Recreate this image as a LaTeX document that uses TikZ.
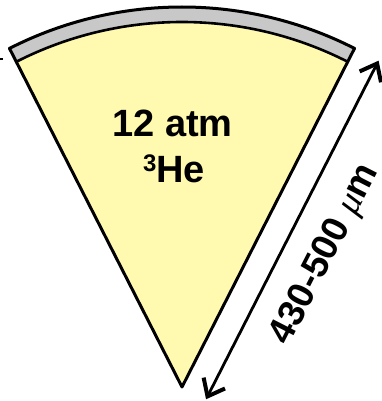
\documentclass[tikz,border=0pt]{standalone}
\usepackage{fontspec}
\setmainfont{Liberation Sans}
\newfontfamily\symfont{Liberation Serif}
\usetikzlibrary{arrows.meta,calc}
\definecolor{gasyellow}{RGB}{255,250,175}
\definecolor{wallgray}{RGB}{200,200,200}
\tikzset{
  outline/.style={line width=3pt, line join=round},
  dimarrow/.style={line width=2.8pt, {Straight Barb[length=15pt,width=24pt,line width=4pt]}-{Straight Barb[length=15pt,width=24pt,line width=4pt]}},
  bigtext/.style={font=\fontsize{38}{40}\selectfont\bfseries, inner sep=0pt},
}
\begin{document}
\begin{tikzpicture}[x=1pt,y=1pt]
\useasboundingbox (0,0) rectangle (382,401);
\coordinate (A) at (182,14);
\begin{scope}[shift={(A)}]
  \fill[gasyellow] (0,0) -- (63:365pt) arc[start angle=63,end angle=117,radius=365pt] -- cycle;
  \fill[wallgray] (63:365pt) arc[start angle=63,end angle=117,radius=365pt] -- (117:380pt) arc[start angle=117,end angle=63,radius=380pt] -- cycle;
  \draw[line width=2.6pt] (63:365pt) arc[start angle=63,end angle=117,radius=365pt];
  \draw[outline] (0,0) -- (63:380pt) arc[start angle=63,end angle=117,radius=380pt] -- cycle;
\end{scope}
\coordinate (lo) at ($(A)+(-27:27pt)$);
\coordinate (hi) at ($(lo)+(63:380pt)$);
\draw[dimarrow] (lo) -- (hi);
\node[bigtext, anchor=base] (p) at (172.5,264) {12 atm};
\node[bigtext, anchor=base] (he) at (174,218) {\raisebox{11pt}{\fontsize{24}{24}\selectfont 3}He};
\node[font=\fontsize{37}{40}\selectfont\bfseries, rotate=63, inner sep=0pt] (len) at ($(A)+(-27:68pt)+(63:183pt)$) {430-500 {\symfont\mdseries\itshape μ}m};
\draw[line width=2pt] (0,342) -- (2.5,342);
\end{tikzpicture}
\end{document}
